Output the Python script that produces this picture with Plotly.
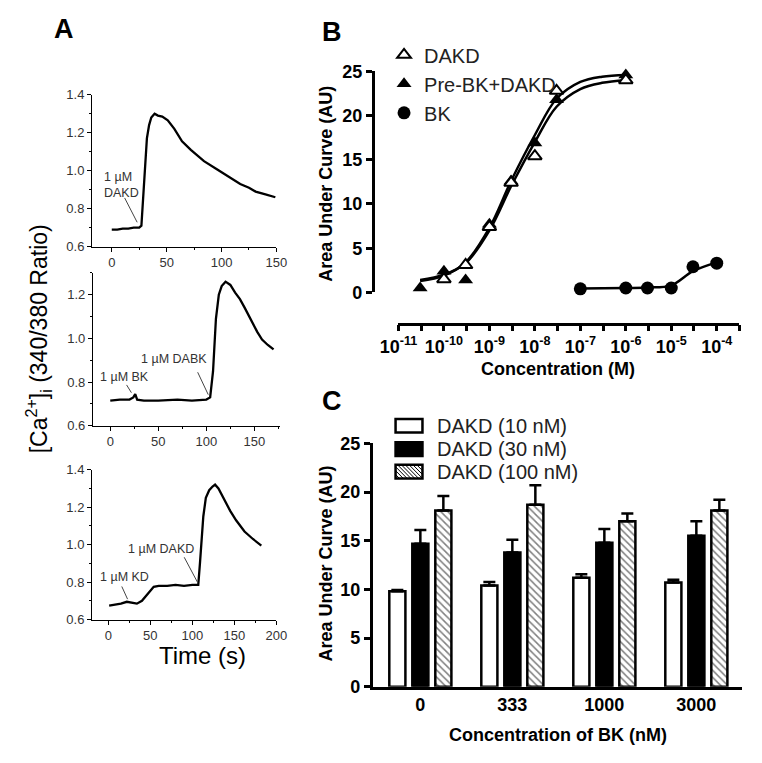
import plotly.graph_objects as go

W, H = 762, 763
FONT = "Liberation Sans, Arial, sans-serif"


def px(x):
    return x / W


def py(y):
    return 1 - y / H


# ---- Panel A: calcium traces (time in s, 340/380 ratio)
a1_time = [0, 5, 10, 15, 20, 25, 27, 28, 30, 32, 34, 36, 39, 42, 46, 51, 57, 64,
           72, 84, 95, 102, 110, 117, 125, 131, 140, 149]
a1_ratio = [0.69, 0.69, 0.695, 0.695, 0.70, 0.70, 0.71, 0.80, 1.00, 1.17, 1.24, 1.28,
            1.30, 1.29, 1.285, 1.265, 1.22, 1.155, 1.11, 1.05, 1.01, 0.985, 0.955,
            0.93, 0.91, 0.89, 0.875, 0.86]

a2_time = [0, 10, 20, 24, 26, 28, 35, 50, 70, 85, 100, 104, 107, 110, 113, 116, 120,
           125, 130, 135, 140, 148, 153, 158, 164, 170]
a2_ratio = [0.715, 0.72, 0.72, 0.73, 0.745, 0.72, 0.715, 0.715, 0.72, 0.715, 0.72,
            0.73, 0.85, 1.09, 1.20, 1.24, 1.26, 1.245, 1.21, 1.18, 1.14, 1.07, 1.03,
            0.995, 0.97, 0.95]

a3_time = [1, 8, 15, 22, 28, 34, 40, 45, 50, 54, 60, 70, 80, 90, 100, 107, 109, 111,
           113, 116, 120, 124, 127, 131, 138, 145, 152, 162, 172, 182]
a3_ratio = [0.675, 0.68, 0.685, 0.695, 0.69, 0.685, 0.70, 0.725, 0.755, 0.775, 0.78,
            0.78, 0.785, 0.78, 0.785, 0.785, 0.90, 1.05, 1.15, 1.25, 1.29, 1.31, 1.32,
            1.30, 1.24, 1.18, 1.13, 1.07, 1.03, 0.995]

# ---- Panel B: dose response (M, AU)
dakd_conc = [1e-10, 3e-10, 1e-9, 3e-9, 1e-8, 3e-8, 1e-6]
dakd_auc = [1.5, 3.1, 7.4, 12.4, 15.4, 22.8, 24.0]
prebk_conc = [3e-11, 1e-10, 3e-10, 1e-9, 3e-9, 1e-8, 3e-8, 1e-6]
prebk_auc = [0.5, 2.4, 1.4, 7.7, 12.6, 16.9, 21.8, 24.6]
bk_conc = [1e-7, 1e-6, 3e-6, 1e-5, 3e-5, 1e-4]
bk_auc = [0.4, 0.5, 0.5, 0.5, 2.9, 3.3]

fit_conc = [3e-11, 1e-10, 3e-10, 1e-9, 3e-9, 1e-8, 3e-8, 1e-7, 3e-7, 1e-6]
dakd_fit = [1.4, 2.0, 3.3, 7.0, 12.0, 17.0, 21.0, 23.0, 23.7, 24.0]
prebk_fit = [1.3, 1.9, 3.4, 7.3, 12.6, 17.8, 21.9, 23.8, 24.4, 24.6]
bk_fit = [0.45, 0.5, 0.55, 0.8, 2.4, 3.4]

b_exponents = [-11, -10, -9, -8, -7, -6, -5, -4]

# ---- Panel C: AUC vs BK pre-treatment
bk_doses = ["0", "333", "1000", "3000"]
auc_10 = [9.8, 10.4, 11.2, 10.7]
err_10 = [0.15, 0.35, 0.35, 0.3]
auc_30 = [14.7, 13.8, 14.8, 15.5]
err_30 = [1.4, 1.3, 1.4, 1.5]
auc_100 = [18.1, 18.7, 17.0, 18.1]
err_100 = [1.5, 2.0, 0.8, 1.1]

fig = go.Figure()

# panel A
for i, (t, r) in enumerate([(a1_time, a1_ratio), (a2_time, a2_ratio), (a3_time, a3_ratio)], 1):
    sfx = str(i) if i > 1 else ""
    fig.add_trace(go.Scatter(x=t, y=r, mode="lines", line=dict(color="black", width=2.3),
                             xaxis="x" + sfx, yaxis="y" + sfx, showlegend=False, hoverinfo="skip"))

# panel B fits then markers
for yfit in (dakd_fit, prebk_fit):
    fig.add_trace(go.Scatter(x=fit_conc, y=yfit, mode="lines",
                             line=dict(color="black", width=2.5, shape="spline"),
                             xaxis="x4", yaxis="y4", showlegend=False))
fig.add_trace(go.Scatter(x=bk_conc, y=bk_fit, mode="lines", line=dict(color="black", width=2.5, shape="spline"),
                         xaxis="x4", yaxis="y4", showlegend=False))
fig.add_trace(go.Scatter(x=prebk_conc, y=prebk_auc, mode="markers", name="Pre-BK+DAKD",
                         marker=dict(symbol="triangle-up", size=13, color="black"),
                         xaxis="x4", yaxis="y4", cliponaxis=False, legendrank=2))
fig.add_trace(go.Scatter(x=dakd_conc, y=dakd_auc, mode="markers", name="DAKD",
                         marker=dict(symbol="triangle-up", size=12, color="white",
                                     line=dict(color="black", width=2)),
                         xaxis="x4", yaxis="y4", cliponaxis=False, legendrank=1))
fig.add_trace(go.Scatter(x=bk_conc, y=bk_auc, mode="markers", name="BK",
                         marker=dict(symbol="circle", size=13, color="black"),
                         xaxis="x4", yaxis="y4", cliponaxis=False, legendrank=3))

# panel C bars
bar_line = dict(color="black", width=2.5)
err_style = dict(type="data", symmetric=False, arrayminus=[0, 0, 0, 0], thickness=2.5, width=6, color="black")
fig.add_trace(go.Bar(x=bk_doses, y=auc_10, marker=dict(color="white", line=bar_line),
                     error_y=dict(err_style, array=err_10), xaxis="x5", yaxis="y5", showlegend=False))
fig.add_trace(go.Bar(x=bk_doses, y=auc_30, marker=dict(color="black", line=bar_line),
                     error_y=dict(err_style, array=err_30), xaxis="x5", yaxis="y5", showlegend=False))
fig.add_trace(go.Bar(x=bk_doses, y=auc_100,
                     marker=dict(color="white", line=bar_line,
                                 pattern=dict(shape="\\", fgcolor="black", bgcolor="white", size=5, solidity=0.3)),
                     error_y=dict(err_style, array=err_100), xaxis="x5", yaxis="y5", showlegend=False))

# axes
a_tick = dict(family=FONT, size=13, color="#333")
a_common = dict(showline=True, linecolor="black", linewidth=1, ticks="outside", ticklen=4,
                tickcolor="black", showgrid=False, zeroline=False, tickfont=a_tick)
a_x_minor = dict(dtick=25, ticks="outside", ticklen=2, tickcolor="black")
a_y_minor = dict(dtick=0.1, ticks="outside", ticklen=2, tickcolor="black")

bold_tick = dict(family=FONT, size=18, color="black", weight="bold")
b_common = dict(showline=True, linecolor="black", linewidth=2.5, ticks="outside", ticklen=6,
                tickwidth=2.5, tickcolor="black", showgrid=False, zeroline=False, tickfont=bold_tick)

major_vals = [10.0 ** e for e in b_exponents]
major_text = [f"10<sup>{e}</sup>" for e in b_exponents]
half_vals = [10.0 ** (e + 0.5) for e in b_exponents]

fig.update_layout(
    width=W, height=H, margin=dict(l=0, r=0, t=0, b=0),
    paper_bgcolor="white", plot_bgcolor="white",
    font=dict(family=FONT, color="black"),
    barmode="group", bargap=0.25, bargroupgap=0.3,
    xaxis=dict(a_common, domain=[px(76), px(268)], range=[-18, 150], dtick=50, tick0=0, minor=a_x_minor, anchor="y"),
    yaxis=dict(a_common, domain=[py(243), py(87)], range=[0.6, 1.4], dtick=0.2, tickformat=".1f", minor=a_y_minor, anchor="x"),
    xaxis2=dict(a_common, domain=[px(77), px(272)], range=[-18, 177], dtick=50, tick0=0, minor=a_x_minor, anchor="y2"),
    yaxis2=dict(a_common, domain=[py(427), py(270)], range=[0.6, 1.3], dtick=0.2, tickformat=".1f", minor=a_y_minor, anchor="x2"),
    xaxis3=dict(a_common, domain=[px(76), px(268)], range=[-19.4, 200], dtick=50, tick0=0, minor=a_x_minor, anchor="y3"),
    yaxis3=dict(a_common, domain=[py(626), py(472)], range=[0.6, 1.4], dtick=0.2, tickformat=".1f", minor=a_y_minor, anchor="x3"),
    xaxis4=dict(b_common, type="log", domain=[px(395), px(750)], range=[-11, -3.5],
                tickmode="array", tickvals=major_vals, ticktext=major_text,
                minor=dict(tickmode="array", tickvals=half_vals, ticks="outside", ticklen=6,
                           tickwidth=2.5, tickcolor="black"),
                anchor="free", position=py(322)),
    yaxis4=dict(b_common, domain=[py(290), py(63)], range=[0, 25], dtick=5, anchor="free", position=px(368)),
    xaxis5=dict(b_common, type="category", domain=[px(368), px(753)], range=[-0.52, 3.5], ticks="", anchor="y5"),
    yaxis5=dict(b_common, domain=[py(695), py(445)], range=[0, 25], dtick=5, anchor="x5"),
    legend=dict(x=px(380), y=py(26), xanchor="left", yanchor="top", bgcolor="rgba(0,0,0,0)",
                font=dict(family=FONT, size=20, color="#222"), tracegroupgap=0, itemsizing="trace"),
)

ann = []
shapes = []


def text(s, x, y, size, bold=False, angle=0, anchor="left", color="black"):
    ann.append(dict(text=f"<b>{s}</b>" if bold else s, x=px(x), y=py(y), xref="paper", yref="paper",
                    xanchor=anchor, yanchor="middle", showarrow=False, textangle=angle,
                    font=dict(family=FONT, size=size, color=color)))


def seg(x0, y0, x1, y1, color="black", width=1):
    shapes.append(dict(type="line", xref="paper", yref="paper", x0=px(x0), y0=py(y0), x1=px(x1), y1=py(y1),
                       line=dict(color=color, width=width)))


# panel letters
text("A", 47, 20, 27, bold=True, anchor="center")
text("B", 326, 23, 27, bold=True, anchor="center")
text("C", 326, 402, 27, bold=True, anchor="center")

# panel A labels
grey = "#333"
text("1 µM", 86, 171, 12.5, color=grey)
text("DAKD", 86, 188, 12.5, color=grey)
text("1 µM BK", 82, 377, 12.5, color=grey)
text("1 µM DABK", 125, 358, 12.5, color=grey)
text("1 µM KD", 82, 582, 12.5, color=grey)
text("1 µM DAKD", 111, 554, 12.5, color=grey)
for x0, y0, x1, y1 in [(110, 193, 123, 218), (112, 385, 117, 393), (186, 372, 197, 395),
                       (107, 592, 113, 605), (172, 562, 186, 588)]:
    seg(x0, y0, x1, y1, color="#444", width=1)
text("[Ca<sup>2+</sup>]<sub>i</sub> (340/380 Ratio)", 20, 338, 23, angle=-90, anchor="center")
text("Time (s)", 191, 663, 24, anchor="center")

# panel B / C titles
text("Area Under Curve (AU)", 320, 178, 18, bold=True, angle=-90, anchor="center")
text("Concentration (M)", 561, 369, 18, bold=True, anchor="center")
text("Area Under Curve (AU)", 320, 568, 18, bold=True, angle=-90, anchor="center")
text("Concentration of BK (nM)", 561, 745, 18, bold=True, anchor="center")

# panel C legend (manual swatches)
legend_c = [("DAKD (10 nM)", "white", 427), ("DAKD (30 nM)", "black", 451), ("DAKD (100 nM)", "hatch", 474)]
for label, fill, yc in legend_c:
    x0, x1, y0, y1 = 392, 420, yc - 7, yc + 7
    shapes.append(dict(type="rect", xref="paper", yref="paper", x0=px(x0), x1=px(x1), y0=py(y1), y1=py(y0),
                       fillcolor="black" if fill == "black" else "white", line=dict(color="black", width=2.5)))
    if fill == "hatch":
        h = y1 - y0
        c = x0 - h
        while c < x1:
            xs, ys, xe, ye = c, y0, c + h, y1
            if xs < x0:
                ys += x0 - xs
                xs = x0
            if xe > x1:
                ye -= xe - x1
                xe = x1
            seg(xs, ys, xe, ye, width=1)
            c += 4
    text(label, 433, yc, 20, color="#222")

fig.update_layout(annotations=ann, shapes=shapes)
fig.write_html("out.html", config={"displayModeBar": False},
               post_script="document.body.style.margin='0px';")
